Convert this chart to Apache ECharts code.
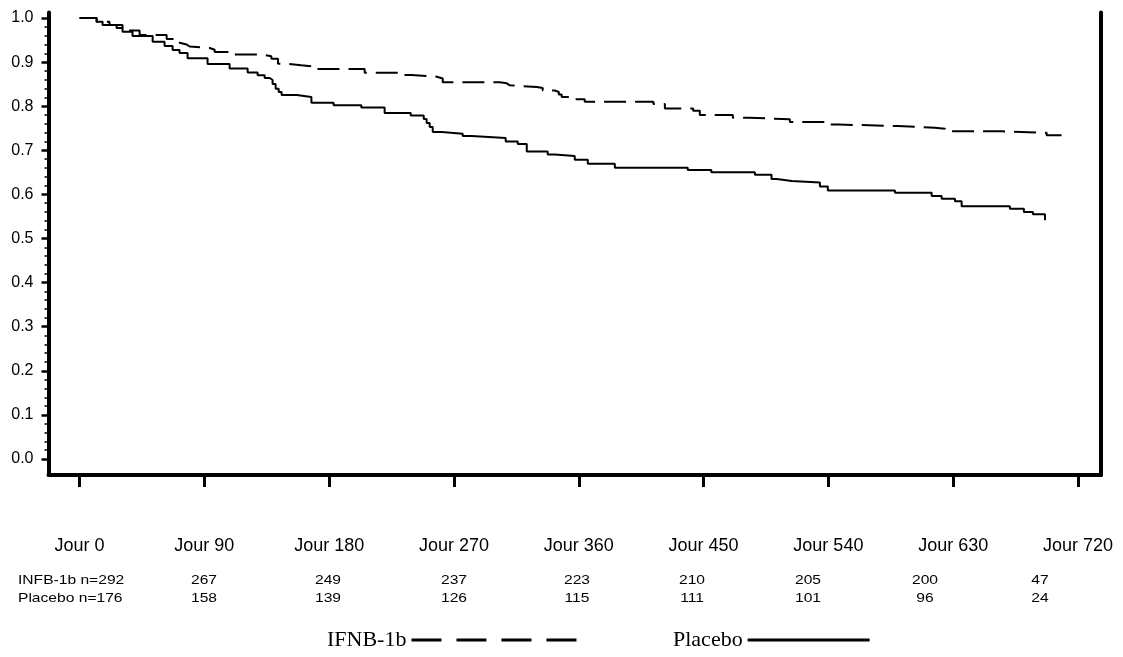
<!DOCTYPE html>
<html>
<head>
<meta charset="utf-8">
<script src="https://cdn.jsdelivr.net/npm/echarts@6/dist/echarts.min.js"></script>
<style>
html,body{margin:0;padding:0;background:#fff;}
#chart{width:1123px;height:657px;}
</style>
</head>
<body>
<div id="chart"></div>
<script>
// ---- Data ----
// IFNB-1b (dashed): [day, survival] at each drop
const ifnbSteps = [
  [0,1.0],[12.3,0.9916],[21.6,0.9841],[31.0,0.9717],[43.3,0.9615],[62.8,0.9524],[68.5,0.9440],
  [72.1,0.9399],[77.2,0.9354],[79.4,0.9320],[93.8,0.9281],[97.4,0.9229],[109.4,0.9172],
  [132.0,0.9132],[138.3,0.9077],[143.1,0.8964],[150.1,0.8927],[159.9,0.8905],[168.1,0.8844],
  [205.6,0.8760],[233.0,0.8707],[239.3,0.8669],[257.6,0.8628],[261.9,0.8544],[303.0,0.8519],
  [308.1,0.8474],[310.2,0.8435],[329.7,0.8413],[334.0,0.8356],[342.7,0.8322],[345.6,0.8265],
  [347.7,0.8209],[355.7,0.8159],[364.3,0.8102],[413.8,0.8050],[422.1,0.7948],[442.5,0.7898],
  [447.3,0.7800],[471.1,0.7739],[482.6,0.7705],[512.2,0.7642],[541.1,0.7585],[546.9,0.7551],
  [590.1,0.7512],[616.8,0.7490],[624.1,0.7431],[665.0,0.7399],[697.4,0.7340],[708.2,0.7340]
];
// Placebo (solid)
const placeboSteps = [
  [0,1.0],[12.3,0.9916],[16.6,0.9841],[26.7,0.9773],[31.0,0.9689],[38.2,0.9592],[52.7,0.9463],
  [61.3,0.9365],[67.1,0.9274],[72.1,0.9206],[77.9,0.9086],[92.3,0.8957],[108.2,0.8855],
  [121.2,0.8764],[128.4,0.8701],[133.5,0.8639],[137.1,0.8594],[139.2,0.8503],[141.4,0.8397],
  [143.6,0.8322],[145.7,0.8254],[156.6,0.8209],[167.2,0.8079],[183.2,0.8020],[203.2,0.7971],
  [220.0,0.7846],[238.8,0.7789],[248.2,0.7710],[250.3,0.7619],[252.5,0.7528],[254.7,0.7415],
  [261.2,0.7376],[276.3,0.7324],[282.8,0.7279],[307.3,0.7200],[316.0,0.7143],[322.5,0.6973],
  [337.6,0.6905],[342.7,0.6871],[357.1,0.6787],[366.5,0.6696],[386.0,0.6605],[438.6,0.6553],
  [455.6,0.6501],[487.0,0.6447],[499.0,0.6349],[502.8,0.6304],[513.5,0.6270],[533.9,0.6179],
  [539.6,0.6088],[588.0,0.6039],[614.5,0.5964],[621.7,0.5902],[631.3,0.5844],[636.1,0.5730],
  [670.9,0.5676],[681.0,0.5601],[687.5,0.5549],[696.2,0.5413]
];
const xTickDays = [0,90,180,270,360,450,540,630,720];
const yTickValues = [0,0.1,0.2,0.3,0.4,0.5,0.6,0.7,0.8,0.9,1.0];
const riskLabels = ['INFB-1b n=292','Placebo n=176'];
const riskIfnb = [267,249,237,223,210,205,200,47];
const riskPlacebo = [158,139,126,115,111,101,96,24];
const seriesNames = ['IFNB-1b','Placebo'];

// ---- Layout ----
const riskX = [204,328,454,577,692,808,925,1040];
const riskRowY = [580,598];
const minorTicks = [];
for (let i = 0; i <= 50; i++) { if (i % 5 !== 0) minorTicks.push(i/50); }

const FONT = 'Liberation Sans, Arial, sans-serif';
const SERIF = 'Liberation Serif, Times New Roman, serif';
const graphics = [];
riskLabels.forEach((t,r)=>{
  graphics.push({type:'text', x:18, y:riskRowY[r], scaleX:1.2,
    style:{text:t, font:'13px '+FONT, fill:'#000', align:'left', verticalAlign:'middle'}});
});
[riskIfnb, riskPlacebo].forEach((row,r)=>{
  row.forEach((v,i)=>{
    graphics.push({type:'text', x:riskX[i], y:riskRowY[r], scaleX:1.2,
      style:{text:String(v), font:'13px '+FONT, fill:'#000', align:'center', verticalAlign:'middle'}});
  });
});

const chart = echarts.init(document.getElementById('chart'), null, {renderer:'canvas'});
chart.setOption({
  animation:false,
  backgroundColor:'#fff',
  grid:{left:48.5, top:12.5, width:1052.5, height:462.5, containLabel:false},
  xAxis:{
    type:'value', min:-22.4, max:736.6,
    axisLine:{show:true, onZero:false, lineStyle:{color:'#000', width:4}},
    axisTick:{show:true, customValues:xTickDays, length:12, lineStyle:{color:'#000', width:3}},
    axisLabel:{show:true, customValues:xTickDays, formatter:v=>'Jour '+v, margin:62,
      color:'#000', fontSize:18, fontFamily:FONT},
    splitLine:{show:false}
  },
  yAxis:[{
    type:'value', min:-0.0363, max:1.0125, position:'left',
    axisLine:{show:true, onZero:false, lineStyle:{color:'#000', width:4}},
    axisTick:{show:true, customValues:yTickValues, length:7, lineStyle:{color:'#000', width:2.5}},
    axisLabel:{show:true, customValues:yTickValues, formatter:v=>v.toFixed(1), margin:15,
      color:'#000', fontSize:16, fontFamily:FONT},
    splitLine:{show:false}
  },{
    type:'value', min:-0.0363, max:1.0125, position:'left', offset:0,
    axisLine:{show:false, onZero:false},
    axisTick:{show:true, customValues:minorTicks, length:4, lineStyle:{color:'#000', width:1.5}},
    axisLabel:{show:false},
    splitLine:{show:false}
  },{
    type:'value', min:-0.0363, max:1.0125, position:'right', offset:0,
    axisLine:{show:true, onZero:false, lineStyle:{color:'#000', width:4}},
    axisTick:{show:false}, axisLabel:{show:false}, splitLine:{show:false}
  }],
  legend:[{
    data:[seriesNames[0]], left:322, top:624, align:'right', itemWidth:165, itemHeight:14,
    textStyle:{fontFamily:SERIF, fontSize:22, color:'#000'},
    lineStyle:{width:3, type:[30,15]}, itemStyle:{opacity:0}, selectedMode:false
  },{
    data:[seriesNames[1]], left:668, top:624, align:'right', itemWidth:122, itemHeight:14,
    textStyle:{fontFamily:SERIF, fontSize:22, color:'#000'},
    lineStyle:{width:3}, itemStyle:{opacity:0}, selectedMode:false
  }],
  series:[{
    name:seriesNames[0], type:'line', step:'end', symbol:'none', data:ifnbSteps,
    lineStyle:{color:'#000', width:2, type:[22,9]}, itemStyle:{color:'#000'}
  },{
    name:seriesNames[1], type:'line', step:'end', symbol:'none', data:placeboSteps,
    lineStyle:{color:'#000', width:2, type:'solid'}, itemStyle:{color:'#000'}
  }],
  graphic:graphics
});
</script>
</body>
</html>
